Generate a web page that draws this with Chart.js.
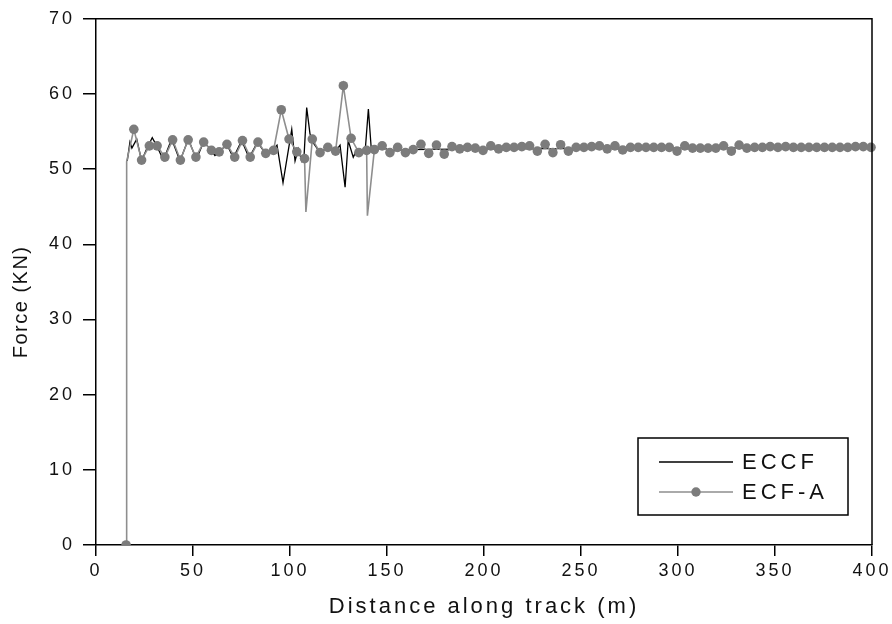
<!DOCTYPE html>
<html><head><meta charset="utf-8">
<script src="https://cdn.jsdelivr.net/npm/chart.js@4.4.0/dist/chart.umd.min.js"></script>
<style>html,body{margin:0;padding:0;background:#fff;}#wrap{width:892px;height:624px;}</style>
</head><body><div id="wrap"><canvas id="c" width="892" height="624"></canvas></div>
<script>
// ---- axis ticks ----
const xTicks = [0, 50, 100, 150, 200, 250, 300, 350, 400];
const yTicks = [0, 10, 20, 30, 40, 50, 60, 70];

// ---- ECCF (black line) ----
const eccfX = [16.1,17.5,18.5,21.0,23.5,26.0,29.0,31.5,34.7,39.0,43.3,47.6,51.7,55.5,58.5,61.3,64.0,67.4,70.8,75.1,78.9,83.3,87.5,90.5,93.3,96.4,100.9,102.6,104.3,106.0,107.3,108.6,110.3,112.3,115.5,119.5,123.5,125.8,128.4,130.0,132.6,134.5,137.0,138.8,140.4,142.0,144.0,148.0,152.0,160.0,200.0,300.0,400.0];
const eccfY = [51.1,53.6,52.8,54.0,51.1,52.6,54.2,53.0,51.2,54.0,51.1,54.0,51.3,53.6,52.8,51.8,52.4,53.3,51.5,53.8,51.5,53.6,52.0,52.4,53.2,48.2,55.3,51.1,52.7,51.1,52.0,58.2,54.7,53.4,52.2,52.9,52.4,53.2,47.6,53.8,51.6,52.6,52.2,52.6,58.0,52.3,52.7,52.9,52.4,52.6,52.7,52.8,52.85];

// ---- ECF-A (grey line with symbols); ecfaSym = 1 where a symbol is drawn ----
const ecfaX = [15.5,15.8,19.5,23.5,27.5,31.5,35.5,39.5,43.5,47.5,51.5,55.5,59.5,63.5,67.5,71.5,75.5,79.5,83.5,87.5,91.5,95.5,99.5,103.5,107.5,108.2,111.5,115.5,119.5,123.5,127.5,131.5,135.5,139.5,139.9,143.5,147.5,151.5,155.5,159.5,163.5,167.5,171.5,175.5,179.5,183.5,187.5,191.5,195.5,199.5,203.5,207.5,211.5,215.5,219.5,223.5,227.5,231.5,235.5,239.5,243.5,247.5,251.5,255.5,259.5,263.5,267.5,271.5,275.5,279.5,283.5,287.5,291.5,295.5,299.5,303.5,307.5,311.5,315.5,319.5,323.5,327.5,331.5,335.5,339.5,343.5,347.5,351.5,355.5,359.5,363.5,367.5,371.5,375.5,379.5,383.5,387.5,391.5,395.5,399.5];
const ecfaY = [0,51.0,55.3,51.2,53.1,53.1,51.6,53.9,51.2,53.9,51.6,53.6,52.5,52.3,53.3,51.6,53.8,51.6,53.6,52.1,52.5,57.9,54.0,52.3,51.4,44.3,54.0,52.2,52.9,52.4,61.1,54.1,52.2,52.5,43.8,52.6,53.1,52.2,52.9,52.2,52.6,53.3,52.1,53.2,52.0,53.0,52.7,52.9,52.8,52.5,53.1,52.7,52.9,52.9,53.0,53.1,52.4,53.3,52.2,53.25,52.4,52.9,52.9,53.0,53.1,52.7,53.1,52.55,52.9,52.9,52.9,52.9,52.9,52.9,52.4,53.1,52.8,52.8,52.8,52.8,53.1,52.4,53.2,52.8,52.9,52.9,53.0,52.9,53.0,52.9,52.9,52.9,52.9,52.9,52.9,52.9,52.9,53.0,53.0,52.9];
const ecfaSym = [1,0,1,1,1,1,1,1,1,1,1,1,1,1,1,1,1,1,1,1,1,1,1,1,1,0,1,1,1,1,1,1,1,1,0,1,1,1,1,1,1,1,1,1,1,1,1,1,1,1,1,1,1,1,1,1,1,1,1,1,1,1,1,1,1,1,1,1,1,1,1,1,1,1,1,1,1,1,1,1,1,1,1,1,1,1,1,1,1,1,1,1,1,1,1,1,1,1,1,1];

const seriesNames = ['ECCF', 'ECF-A'];
const xTitle = 'Distance along track (m)';
const yTitle = 'Force (KN)';

const FONT = "'Liberation Sans', Arial, sans-serif";
const TXT = '#111';

const toPts = (xs, ys) => xs.map((x, i) => ({x: x, y: ys[i]}));

const spacingPlugin = {
  id: 'spacing',
  beforeDraw(chart) {
    const ctx = chart.ctx;
    ['x', 'y'].forEach(id => {
      const s = chart.scales[id];
      if (s && !s._lsPatched) {
        const dl = s.drawLabels.bind(s), dt = s.drawTitle.bind(s);
        s.drawLabels = function (a) { ctx.letterSpacing = '3px'; dl(a); ctx.letterSpacing = '0px'; };
        s.drawTitle = function (a) {
          ctx.save();
          if (id === 'x') { ctx.letterSpacing = '3px'; }
          else { ctx.letterSpacing = '1.5px'; ctx.translate(0, 20); }
          dt(a);
          ctx.restore();
          ctx.letterSpacing = '0px';
        };
        s._lsPatched = true;
      }
    });
  }
};

const framePlugin = {
  id: 'frame',
  afterDraw(chart) {
    const {ctx, chartArea: a} = chart;
    ctx.save();
    ctx.strokeStyle = '#000';
    ctx.lineWidth = 1.5;
    ctx.beginPath();
    ctx.moveTo(a.left, a.top); ctx.lineTo(a.right, a.top); ctx.lineTo(a.right, a.bottom);
    ctx.stroke();
    // legend box
    const bw = 210, bh = 77;
    const bx = a.right - 24 - bw, by = a.bottom - 30 - bh;
    ctx.lineWidth = 1.5;
    ctx.strokeRect(bx, by, bw, bh);
    ctx.font = '22px ' + FONT;
    ctx.fillStyle = TXT;
    ctx.textBaseline = 'middle';
    ctx.letterSpacing = '4px';
    chart.data.datasets.forEach((ds, i) => {
      const y = by + 24 + i * 30;
      ctx.strokeStyle = ds.borderColor;
      ctx.lineWidth = ds.borderWidth;
      ctx.beginPath(); ctx.moveTo(bx + 21, y); ctx.lineTo(bx + 95, y); ctx.stroke();
      if (ds.legendSymbol) {
        ctx.fillStyle = ds.pointBackgroundColor;
        ctx.beginPath(); ctx.arc(bx + 58, y, 4.7, 0, Math.PI * 2); ctx.fill();
        ctx.fillStyle = TXT;
      }
      ctx.fillText(ds.label, bx + 104, y + 1);
    });
    ctx.letterSpacing = '0px';
    ctx.restore();
  }
};

new Chart(document.getElementById('c'), {
  type: 'scatter',
  data: {
    datasets: [
      {
        label: seriesNames[0],
        data: toPts(eccfX, eccfY),
        showLine: true,
        borderColor: '#000',
        borderWidth: 1.3,
        pointRadius: 0,
        pointHoverRadius: 0,
        order: 1,
        legendSymbol: false
      },
      {
        label: seriesNames[1],
        data: toPts(ecfaX, ecfaY),
        showLine: true,
        borderColor: '#8e8e8e',
        borderWidth: 1.6,
        pointBackgroundColor: '#7c7c7c',
        pointBorderWidth: 0,
        pointRadius: ecfaSym.map(s => s ? 4.8 : 0),
        pointHoverRadius: 0,
        order: 0,
        legendSymbol: true,
        clip: {left: 0, top: 0, right: 6, bottom: 0}
      }
    ]
  },
  options: {
    responsive: false,
    animation: false,
    devicePixelRatio: 1,
    layout: {padding: {top: 18, right: 20, left: 0, bottom: 0}},
    plugins: {legend: {display: false}, tooltip: {enabled: false}},
    events: [],
    scales: {
      x: {
        type: 'linear', min: 0, max: 400,
        afterBuildTicks: s => { s.ticks = xTicks.map(v => ({value: v})); },
        afterFit: s => { s.height = 79; },
        ticks: {font: {family: FONT, size: 18}, color: TXT, padding: 4, maxRotation: 0, autoSkip: false},
        grid: {drawOnChartArea: false, drawTicks: true, tickLength: 11, color: '#000', lineWidth: 1.5},
        border: {color: '#000', width: 1.5},
        title: {display: true, text: xTitle, font: {family: FONT, size: 22}, color: TXT, padding: {top: 0, bottom: 4}}
      },
      y: {
        type: 'linear', min: 0, max: 70,
        afterBuildTicks: s => { s.ticks = yTicks.map(v => ({value: v})); },
        afterFit: s => { s.width = 96; },
        ticks: {font: {family: FONT, size: 18}, color: TXT, padding: 8, autoSkip: false},
        grid: {drawOnChartArea: false, drawTicks: true, tickLength: 13, color: '#000', lineWidth: 1.5},
        border: {color: '#000', width: 1.5},
        title: {display: true, text: yTitle, font: {family: FONT, size: 20}, color: TXT, padding: {top: 9, bottom: 0}}
      }
    }
  },
  plugins: [spacingPlugin, framePlugin]
});
</script>
</body></html>
